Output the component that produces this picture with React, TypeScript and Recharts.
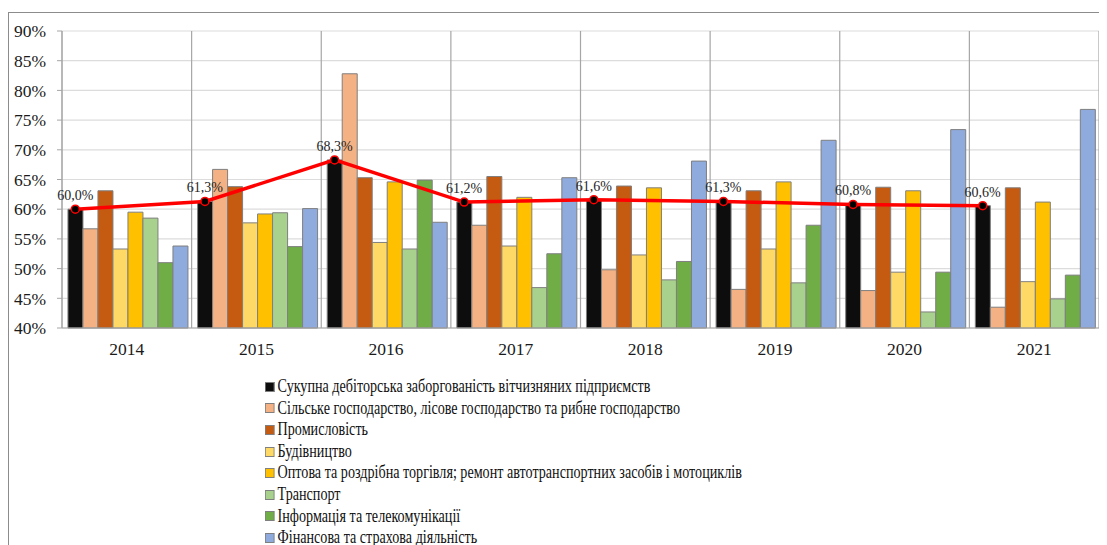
import React from "react";
import { ComposedChart, Bar, Line, XAxis, YAxis, CartesianGrid, LabelList } from "recharts";

const years = ["2014", "2015", "2016", "2017", "2018", "2019", "2020", "2021"];

// shares, %
const total = [60.0, 61.3, 68.3, 61.2, 61.6, 61.3, 60.8, 60.6];
const agriculture = [56.7, 66.7, 82.8, 57.3, 49.8, 46.5, 46.3, 43.5];
const industry = [63.1, 63.8, 65.3, 65.5, 63.9, 63.1, 63.7, 63.6];
const construction = [53.3, 57.7, 54.4, 53.8, 52.3, 53.3, 49.4, 47.8];
const trade = [59.5, 59.2, 64.6, 62.0, 63.6, 64.6, 63.1, 61.2];
const transport = [58.5, 59.4, 53.3, 46.8, 48.1, 47.6, 42.7, 44.9];
const telecom = [51.0, 53.7, 64.9, 52.5, 51.2, 57.3, 49.4, 48.9];
const finance = [53.8, 60.1, 57.8, 65.3, 68.1, 71.6, 73.4, 76.8];

const yTicks = [40, 45, 50, 55, 60, 65, 70, 75, 80, 85, 90];

const series = [
    { key: "total", name: "Сукупна дебіторська заборгованість вітчизняних підприємств", color: "#0d0d0d", values: total },
    { key: "agriculture", name: "Сільське господарство, лісове господарство та рибне господарство", color: "#f4b183", values: agriculture },
    { key: "industry", name: "Промисловість", color: "#c55a11", values: industry },
    { key: "construction", name: "Будівництво", color: "#ffd966", values: construction },
    { key: "trade", name: "Оптова та роздрібна торгівля; ремонт автотранспортних засобів і мотоциклів", color: "#ffc000", values: trade },
    { key: "transport", name: "Транспорт", color: "#a9d18e", values: transport },
    { key: "telecom", name: "Інформація та телекомунікації", color: "#70ad47", values: telecom },
    { key: "finance", name: "Фінансова та страхова діяльність", color: "#8faadc", values: finance },
]

const data = years.map((year, i) => {
    const row: Record<string, any> = { year }
    series.forEach(s => { row[s.key] = s.values[i] })
    return row
})

const FONT = "Liberation Serif, Times New Roman, serif"
const W = 1099
const H = 537
const margin = { top: 23, right: 8, left: 0, bottom: 187 }
const yAxisWidth = 54

// line points sit on the centre of the first bar in each group
const plotWidth = W - margin.left - margin.right - yAxisWidth
const band = plotWidth / years.length
const catGap = 0.046
const barW = (band - 2 * band * catGap) / series.length
const padLeft = band * catGap + barW / 2
const padRight = band - padLeft

// group separators (between categories)
const sepTicks = years.map((_, i) => i).concat(years.length)

const fmt = (v: any) => `${Number(v).toFixed(1).replace(".", ",")}%`

const Dot = (props: any) => {
    const { cx, cy } = props
    return <circle cx={cx} cy={cy} r={4} fill="#000" stroke="#ff0000" strokeWidth={1.5} />
}

export default function App() {
    return (
        <div style={{ position: "relative", width: W, height: H, fontFamily: FONT }}>
            <style>{`html,body{overflow:hidden}`}</style>
            <div style={{
                position: "absolute", left: 0, top: 4, width: W, height: H - 4, boxSizing: "border-box",
                borderTop: "1.5px solid #8c8c8c", borderLeft: "1.5px solid #8c8c8c"
            }} />
            <ComposedChart width={W} height={H} data={data} margin={margin}
                barCategoryGap={`${catGap * 100}%`} barGap={0} style={{ position: "absolute", left: 0, top: 0 }}>
                <CartesianGrid vertical={false} stroke="#dcdcdc" strokeWidth={1.2} />
                <CartesianGrid horizontal={false} stroke="#a6a6a6" strokeWidth={1.2}
                    verticalCoordinatesGenerator={({ offset }: any) =>
                        years.map((_, i) => offset.left + i * offset.width / years.length).concat(offset.left + offset.width)} />
                <XAxis xAxisId="sep" type="number" domain={[0, years.length]} ticks={sepTicks} height={0}
                    tick={false} axisLine={false} tickSize={5} tickLine={{ stroke: "#a6a6a6", strokeWidth: 1.2 }} />
                <XAxis dataKey="year" height={30} tickLine={false} axisLine={{ stroke: "#a6a6a6" }} tickMargin={9}
                    tick={{ fontSize: 17.5, fill: "#1a1a1a", fontFamily: FONT }} />
                <XAxis xAxisId="line" dataKey="year" type="category" scale="point" hide
                    padding={{ left: padLeft, right: padRight }} />
                <YAxis domain={[40, 90]} ticks={yTicks} width={yAxisWidth} tickSize={5} tickMargin={11}
                    tickFormatter={v => `${v}%`} axisLine={{ stroke: "#a6a6a6" }} tickLine={{ stroke: "#a6a6a6" }}
                    tick={{ fontSize: 17.5, fill: "#1a1a1a", fontFamily: FONT }} />
                {series.map(s => (
                    <Bar key={s.key} dataKey={s.key} name={s.name} fill={s.color} stroke="#7f7f7f" strokeWidth={1}
                        isAnimationActive={false} />
                ))}
                <Line xAxisId="line" dataKey="total" stroke="#ff0000" strokeWidth={3.5} dot={<Dot />} activeDot={false}
                    isAnimationActive={false}>
                    <LabelList dataKey="total" position="top" offset={9} formatter={fmt}
                        style={{ fontSize: 14, fill: "#262626", fontFamily: FONT }} />
                </Line>
            </ComposedChart>
            <div style={{
                position: "absolute", left: 257, top: 368, fontSize: 18, lineHeight: "21.6px", color: "#111",
                fontFamily: FONT, transform: "scaleX(0.785)", transformOrigin: "0 0"
            }}>
                {series.map(s => (
                    <div key={s.key} style={{ display: "flex", alignItems: "center", whiteSpace: "nowrap" }}>
                        <span style={{
                            display: "inline-block", width: 12, height: 10, boxSizing: "border-box",
                            background: s.color, border: "1px solid #7f7f7f", marginRight: 4
                        }} />
                        {s.name}
                    </div>
                ))}
            </div>
        </div>
    )
}
